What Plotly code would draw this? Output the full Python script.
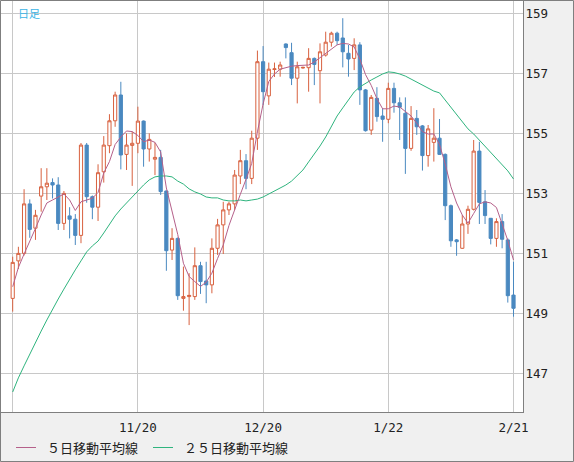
import pandas as pd
import plotly.graph_objects as go

# ---- data ----
days = pd.bdate_range("2024-10-21", "2025-02-21")
days = [d for d in days if d.strftime("%m-%d") != "01-01"]
dates = [d.strftime("%Y-%m-%d") for d in days]

opens = [149.52, 150.77, 151.02, 152.67, 151.86, 152.93, 153.24, 153.38, 153.30, 152.02,
         152.27, 152.16, 151.62, 154.63, 152.91, 152.56, 153.74, 154.61, 155.44, 156.30,
         154.32, 154.62, 154.69, 155.43, 154.50, 154.16, 154.22, 153.10, 151.13, 151.52,
         149.52, 149.58, 149.58, 150.61, 150.10, 149.97, 151.19, 151.97, 152.47, 152.67,
         153.60, 154.11, 153.52, 154.86, 157.41, 156.27, 157.15, 157.16, 158.00, 157.71,
         156.86, 157.20, 157.21, 157.52, 157.11, 157.63, 158.06, 158.36, 158.20, 157.69,
         157.52, 157.97, 156.47, 155.13, 156.19, 155.60, 155.49, 156.52, 156.04, 155.69,
         154.52, 155.52, 155.27, 154.28, 154.72, 154.86, 154.32, 152.61, 151.47, 151.19,
         152.00, 152.49, 154.43, 152.74, 152.19, 151.52, 152.08, 151.47, 149.63]
highs = [150.91, 151.24, 153.16, 152.82, 152.47, 153.86, 153.86, 153.52, 153.56, 153.10,
         152.56, 152.33, 154.70, 154.70, 152.95, 153.99, 154.93, 155.66, 156.41, 156.74,
         155.02, 155.08, 155.91, 155.45, 155.02, 154.71, 154.47, 153.12, 151.86, 151.55,
         150.58, 150.36, 151.22, 150.74, 150.74, 151.52, 152.17, 152.74, 152.74, 153.80,
         154.47, 154.33, 155.11, 157.78, 157.93, 157.38, 157.38, 157.41, 158.02, 158.04,
         157.41, 157.24, 157.86, 157.55, 158.02, 158.41, 158.41, 158.41, 158.86, 157.97,
         158.19, 158.06, 156.50, 156.30, 156.56, 155.86, 156.71, 156.71, 156.22, 156.22,
         155.93, 155.80, 155.30, 155.30, 155.86, 155.50, 154.35, 152.65, 151.50, 152.30,
         152.61, 154.80, 154.74, 153.13, 152.20, 152.19, 152.33, 151.52, 150.74]
lows = [149.08, 150.50, 150.95, 151.54, 151.47, 152.41, 152.80, 152.85, 151.80, 151.80,
        151.52, 151.30, 151.36, 152.71, 152.16, 152.10, 153.38, 154.36, 155.24, 153.82,
        153.80, 153.27, 154.36, 153.91, 154.08, 153.63, 152.97, 150.44, 150.80, 149.47,
        149.11, 148.63, 149.47, 149.67, 149.36, 149.69, 150.97, 151.00, 152.30, 152.47,
        153.33, 153.16, 153.33, 154.47, 155.97, 155.97, 156.90, 156.91, 157.52, 156.63,
        156.02, 157.18, 156.41, 156.63, 156.02, 157.58, 157.91, 157.97, 157.22, 156.91,
        157.13, 155.97, 155.08, 154.97, 155.41, 154.74, 155.36, 155.71, 154.80, 153.67,
        154.44, 154.97, 153.78, 153.91, 154.08, 154.30, 152.13, 151.24, 150.94, 151.17,
        151.67, 152.45, 152.00, 152.00, 151.32, 151.24, 151.19, 149.38, 148.91]
closes = [150.72, 151.02, 152.67, 151.82, 152.29, 153.24, 153.36, 153.30, 152.02, 153.02,
          152.16, 151.62, 154.63, 152.91, 152.56, 153.71, 154.63, 155.44, 156.30, 154.30,
          154.63, 154.69, 155.43, 154.50, 154.82, 154.22, 153.08, 151.11, 151.52, 149.61,
          149.58, 149.62, 150.61, 150.08, 149.97, 151.19, 151.97, 152.47, 152.67, 153.63,
          154.11, 153.52, 154.86, 157.41, 156.41, 157.16, 157.17, 157.30, 157.88, 156.86,
          157.24, 157.22, 157.52, 157.32, 157.74, 158.06, 158.36, 158.11, 157.74, 157.50,
          157.97, 156.47, 155.11, 156.22, 155.58, 155.49, 156.52, 156.04, 155.89, 154.52,
          155.52, 155.24, 154.28, 155.17, 154.86, 154.32, 152.61, 151.44, 151.41, 152.00,
          152.49, 154.43, 152.72, 152.28, 151.52, 152.08, 151.49, 149.61, 149.19]

ma5 = [149.91, 150.55, 151.00, 151.40, 151.85, 152.30, 152.70, 152.80, 152.90, 153.00,
       152.80, 152.45, 152.74, 152.80, 152.86, 153.05, 153.70, 154.08, 154.65, 154.90,
       155.10, 155.08, 154.95, 154.74, 154.80, 154.72, 154.40, 153.20, 152.43, 151.65,
       150.69, 150.25, 150.08, 149.92, 150.06, 150.36, 150.85, 151.30, 151.95, 152.50,
       152.99, 153.49, 154.02, 155.07, 156.00, 156.75, 157.00, 157.16, 157.22, 157.26,
       157.28, 157.29, 157.30, 157.40, 157.55, 157.70, 157.85, 157.97, 158.02, 158.00,
       157.90, 157.50, 156.98, 156.62, 156.18, 155.84, 155.84, 155.93, 155.90, 155.76,
       155.60, 155.36, 155.08, 155.00, 155.00, 154.65, 154.00, 153.24, 152.70, 152.30,
       152.03, 152.35, 152.67, 152.74, 152.70, 152.55, 152.00, 151.45, 150.80]
ma25 = [146.40, 146.87, 147.27, 147.67, 148.07, 148.43, 148.80, 149.17, 149.50, 149.83,
        150.17, 150.47, 150.77, 151.07, 151.27, 151.43, 151.70, 152.00, 152.27, 152.50,
        152.70, 152.93, 153.13, 153.30, 153.47, 153.57, 153.60, 153.60, 153.57, 153.43,
        153.33, 153.17, 153.07, 153.00, 152.90, 152.87, 152.87, 152.80, 152.77, 152.77,
        152.80, 152.77, 152.80, 152.83, 152.90, 153.00, 153.10, 153.20, 153.30, 153.43,
        153.60, 153.80, 154.07, 154.33, 154.60, 154.90, 155.27, 155.60, 155.87, 156.13,
        156.40, 156.57, 156.70, 156.80, 156.90, 157.00, 157.07, 157.05, 157.00, 156.93,
        156.83, 156.73, 156.65, 156.53, 156.43, 156.37, 156.13, 155.90, 155.63, 155.40,
        155.17, 155.00, 154.80, 154.60, 154.37, 154.20, 154.00, 153.77, 153.50]

x_tick_idx = [0, 22, 44, 66, 88]
x_tick_text = ["", "11/20", "12/20", "1/22", "2/21"]
y_ticks = [147, 149, 151, 153, 155, 157, 159]
legend_names = ["５日移動平均線", "２５日移動平均線"]
title_text = "日足"

UP = "#d8613f"
DOWN = "#4a89c0"
C_MA5 = "#b5608a"
C_MA25 = "#2fb47e"
GRID = "#c8c8c8"
BORDER = "#7f7f7f"

W, H = 574, 462
L, R, T, B = 1, 51, 1, 50
pw, ph = W - L - R, H - T - B


def px_x(p):
    return (p - L) / pw


def px_y(p):
    return (H - B - p) / ph


fig = go.Figure()
fig.add_trace(go.Candlestick(
    x=dates, open=opens, high=highs, low=lows, close=closes,
    increasing=dict(line=dict(color=UP, width=1), fillcolor="white"),
    decreasing=dict(line=dict(color=DOWN, width=1), fillcolor=DOWN),
    whiskerwidth=0,
    showlegend=False, hoverinfo="skip",
))
fig.add_trace(go.Scatter(x=dates, y=ma25, mode="lines",
                         line=dict(color=C_MA25, width=1), showlegend=False,
                         hoverinfo="skip"))
fig.add_trace(go.Scatter(x=dates, y=ma5, mode="lines",
                         line=dict(color=C_MA5, width=1), showlegend=False,
                         hoverinfo="skip"))

shapes = [
    dict(type="rect", xref="paper", yref="paper",
         x0=px_x(0.5), x1=px_x(W - 0.5), y0=px_y(H - 0.5), y1=px_y(0.5),
         line=dict(color=BORDER, width=1), layer="above"),
    dict(type="line", xref="paper", yref="paper",
         x0=px_x(16), x1=px_x(36), y0=px_y(447.5), y1=px_y(447.5),
         line=dict(color=C_MA5, width=1)),
    dict(type="line", xref="paper", yref="paper",
         x0=px_x(153), x1=px_x(173), y0=px_y(447.5), y1=px_y(447.5),
         line=dict(color=C_MA25, width=1)),
]
annotations = [
    dict(text=legend_names[0], xref="paper", yref="paper", x=px_x(45), y=px_y(447),
         xanchor="left", yanchor="middle", showarrow=False,
         font=dict(family="Noto Sans CJK JP", size=13, color="#222222")),
    dict(text=legend_names[1], xref="paper", yref="paper", x=px_x(182), y=px_y(447),
         xanchor="left", yanchor="middle", showarrow=False,
         font=dict(family="Noto Sans CJK JP", size=13, color="#222222")),
    dict(text=title_text, xref="paper", yref="paper", x=px_x(16), y=px_y(3),
         xanchor="left", yanchor="top", showarrow=False,
         font=dict(family="Noto Sans CJK JP", size=11, color="#3cb4e6")),
]

fig.update_layout(
    width=W, height=H,
    margin=dict(l=L, r=R, t=T, b=B, pad=0),
    paper_bgcolor="#f0f0f0", plot_bgcolor="white",
    shapes=shapes, annotations=annotations,
    showlegend=False, boxgap=0.2,
    font=dict(family="DejaVu Sans Mono", size=12.5, color="#222222"),
)
fig.update_xaxes(
    type="category", range=[-2.056, 89.669],
    tickvals=[dates[i] for i in x_tick_idx], ticktext=x_tick_text,
    showgrid=True, gridcolor=GRID, gridwidth=1,
    showline=True, linecolor=BORDER, linewidth=1, mirror=False,
    ticks="outside", ticklen=4, tickcolor="rgba(0,0,0,0)",
    rangeslider=dict(visible=False), zeroline=False,
)
fig.update_yaxes(
    side="right", range=[145.733, 159.433], tickvals=y_ticks,
    showgrid=True, gridcolor=GRID, gridwidth=1,
    showline=True, linecolor=BORDER, linewidth=1,
    ticks="", ticklabelstandoff=-1,
    zeroline=False,
)

fig.write_html(
    "out.html",
    config={"displayModeBar": False, "staticPlot": True},
    post_script="document.body.style.margin='0';document.body.style.padding='0';",
)
